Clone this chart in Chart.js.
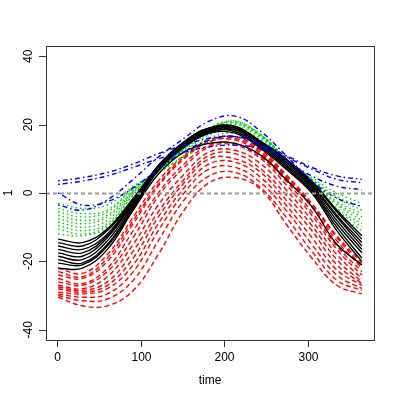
<!DOCTYPE html>
<html>
<head>
<meta charset="utf-8">
<script src="https://cdn.jsdelivr.net/npm/chart.js@4"></script>
<style>
  body { margin: 0; background: #fff; }
  #holder { width: 399px; height: 399px; }
</style>
</head>
<body>
<div id="holder"><canvas id="chart" width="399" height="399"></canvas></div>
<script>
"use strict";

const days = [1, 30, 60, 91, 121, 152, 182, 213, 244, 274, 305, 335, 365];

// cluster 1: black, solid
const blackCurves = [
  [-13.5, -14.5, -10.5, -1.5, 7.5, 13.5, 17.5, 18.5, 15, 10, 3.5, -5, -12.5],
  [-14.5, -15.5, -11, -2, 7.5, 14, 18, 19, 15, 9.5, 3, -5.5, -13.5],
  [-15.5, -16.5, -12, -2, 8, 14.5, 18.5, 19.5, 15, 9.5, 2.5, -6.5, -14.5],
  [-16.5, -17.5, -12.5, -2.5, 8, 15, 19, 19.5, 14.5, 9, 2, -7, -15.5],
  [-17.5, -18.5, -13, -3, 8, 15, 19, 19, 14.5, 8.5, 1.5, -8, -16.5],
  [-18.5, -19.5, -14, -3.5, 7.5, 14.5, 18.5, 18.5, 14, 8, 1, -9, -17.5],
  [-19.5, -20.5, -15, -4, 7, 14, 18, 18, 13.5, 7.5, 0.5, -10, -19],
  [-20.5, -21, -15.5, -4.5, 6.5, 13.5, 17.5, 17.5, 13, 7, 0, -11, -20],
  [-22, -22, -16.5, -5, 5.5, 12, 14.5, 14.5, 11, 4, -4, -15, -21]
];

// cluster 2: red, dashed
const redCurves = [
  [-22, -23.5, -18, -7, 3.5, 11, 15.5, 16.5, 12.5, 5.5, -3, -12.5, -20.5],
  [-23, -24.5, -19, -8, 2.5, 10.5, 15, 16, 12, 5, -3.5, -13, -21.5],
  [-24, -25, -20, -9, 2, 10, 15, 15.5, 11.5, 4.5, -4, -14, -22],
  [-25, -26.5, -22, -11, 0, 8.5, 14, 14.5, 10.5, 3.5, -5.5, -15.5, -23],
  [-26, -27, -23, -13, -1, 7.5, 13.5, 14, 10, 2.5, -6.5, -16.5, -24],
  [-27, -28, -24.5, -15, -3.5, 5.5, 12, 12.5, 8.5, 1, -8, -18, -25],
  [-27.5, -28.5, -26, -17, -5.5, 4, 11, 11.5, 7, -0.5, -9.5, -19.5, -26],
  [-28, -29, -27, -19, -7, 3, 10, 10, 6, -2, -11, -21, -26.5],
  [-29, -29.5, -28, -21, -9, 1.5, 8.5, 9, 4.5, -3.5, -13, -22.5, -27],
  [-29.5, -30.5, -29.5, -23, -11, 0, 7, 7.5, 3, -5, -15, -24, -28],
  [-30, -31.5, -31, -25.5, -14, -2, 5, 6, 1.5, -7, -17, -25.5, -28.5],
  [-30.5, -33, -33, -28.5, -18, -5, 3, 4.5, 1, -9, -19, -27, -29.5]
];

// cluster 3: green, dotted
const greenCurves = [
  [-3, -4.5, -3.5, 2, 6, 10.5, 15, 16.5, 14, 9.5, 4.5, 0, -3],
  [-4.5, -6, -5, 1.5, 6, 11, 16, 17.5, 14.5, 9.5, 4, -1, -4],
  [-5.5, -7, -5.5, 1.5, 6.5, 12, 17, 18.5, 15.5, 10, 4, -1.5, -5],
  [-6.5, -8, -6.5, 1, 6.5, 12.5, 17.5, 19.5, 16, 10, 3.5, -2.5, -6],
  [-7.5, -9, -7, 0.5, 7, 13, 18, 20, 16.5, 10, 3.5, -3, -7],
  [-8.5, -10, -8, 0.5, 7, 13, 18.5, 20.5, 17, 10, 3, -3.5, -8],
  [-9.5, -11, -9, 0, 6.5, 13, 18.5, 21, 17, 10, 3, -4.5, -9],
  [-10.5, -12, -9.5, -0.5, 6.5, 13, 19, 21, 17, 10, 2, -5, -10],
  [-12, -12.5, -10, -0.5, 6.5, 13, 19, 20.5, 16.5, 9.5, 2, -6, -11]
];

// cluster 4: blue, dot-dash
const blueCurves = [
  [3.5, 4.5, 6, 8.5, 11.5, 14, 16, 16.5, 14.5, 11, 7.5, 5, 4],
  [2.5, 3.5, 5, 7.5, 10, 12, 13.5, 14, 13, 10.5, 7, 4, 3],
  [0, -3.5, -2.5, 1.5, 7, 12, 15.5, 16.5, 14, 9.5, 5, 2, 1],
  [-3.5, -5, -2, 4, 10.5, 16, 21, 22.5, 18, 11, 3.5, -1.5, -4]
];

const xTicks = [0, 100, 200, 300];
const yTicks = [-40, -20, 0, 20, 40];
const xTitle = "time";
const yTitle = "1";

function makeDatasets(curves, color, dash) {
  return curves.map(function (values) {
    return {
      data: values.map((v, i) => ({ x: days[i], y: v })),
      borderColor: color,
      borderWidth: 1.4,
      borderDash: dash,
      pointRadius: 0,
      tension: 0.4,
      fill: false
    };
  });
}

// R style: box, outside ticks, rotated y labels
const rAxes = {
  id: "rAxes",
  afterDatasetsDraw(chart) {
    const { ctx, chartArea: a, scales: { y } } = chart;
    const y0 = Math.round(y.getPixelForValue(0)) + 0.5;
    ctx.save();
    ctx.strokeStyle = "#9a9a9a";
    ctx.lineWidth = 2;
    ctx.setLineDash([4, 3]);
    ctx.beginPath();
    ctx.moveTo(a.left, y0);
    ctx.lineTo(a.right, y0);
    ctx.stroke();
    ctx.restore();
  },
  afterDraw(chart) {
    const { ctx, chartArea: a, scales: { x, y } } = chart;
    ctx.save();
    ctx.strokeStyle = "#333";
    ctx.lineWidth = 1;
    ctx.strokeRect(a.left + 0.5, a.top + 0.5, a.right - a.left, a.bottom - a.top);

    ctx.fillStyle = "#000";
    ctx.font = "12px 'Liberation Sans', Arial, sans-serif";
    ctx.textAlign = "center";
    ctx.textBaseline = "middle";
    ctx.beginPath();
    for (const t of xTicks) {
      const px = Math.round(x.getPixelForValue(t)) + 0.5;
      ctx.moveTo(px, a.bottom);
      ctx.lineTo(px, a.bottom + 7);
      ctx.fillText(String(t), px, a.bottom + 18);
    }
    for (const t of yTicks) {
      const py = Math.round(y.getPixelForValue(t)) + 0.5;
      ctx.moveTo(a.left, py);
      ctx.lineTo(a.left - 7, py);
    }
    ctx.stroke();
    for (const t of yTicks) {
      const py = y.getPixelForValue(t);
      ctx.save();
      ctx.translate(a.left - 17, py);
      ctx.rotate(-Math.PI / 2);
      ctx.fillText(String(t), 0, 0);
      ctx.restore();
    }
    ctx.fillText(xTitle, (a.left + a.right) / 2, a.bottom + 41);
    ctx.save();
    ctx.translate(9, (a.top + a.bottom) / 2);
    ctx.rotate(-Math.PI / 2);
    ctx.fillText(yTitle, 0, 0);
    ctx.restore();
    ctx.restore();
  }
};

const datasets = [].concat(
  makeDatasets(blueCurves, "#0000ff", [1.5, 3, 5, 3]),
  makeDatasets(blackCurves, "#000000", []),
  makeDatasets(greenCurves, "#00cd00", [1.5, 3]),
  makeDatasets(redCurves, "#ff0000", [5, 3])
);

new Chart(document.getElementById("chart").getContext("2d"), {
  type: "line",
  data: { datasets: datasets },
  options: {
    responsive: false,
    animation: false,
    layout: { padding: { left: 46, right: 25, top: 46, bottom: 59 } },
    plugins: { legend: { display: false }, tooltip: { enabled: false } },
    scales: {
      x: { type: "linear", min: -13.56, max: 379.56, display: false },
      y: { type: "linear", min: -43, max: 43, display: false }
    }
  },
  plugins: [rAxes]
});
</script>
</body>
</html>
